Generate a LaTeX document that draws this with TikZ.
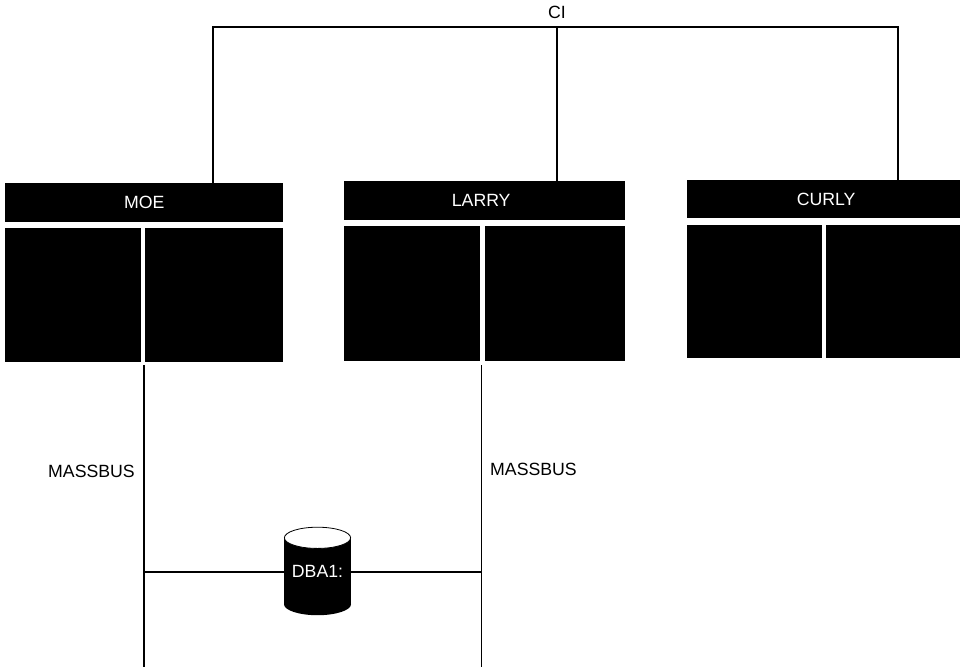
\documentclass[tikz,border=0pt]{standalone}
\usepackage{fontspec}
\setmainfont{Liberation Sans}
\usepackage{tikz}
\usetikzlibrary{positioning}
\begin{document}
\begin{tikzpicture}[
  x=1pt,y=-1pt,
  font=\fontsize{17.7}{20}\selectfont,
  title/.style={fill=black,text=white,minimum height=39pt,inner sep=0pt,anchor=north west},
  cab/.style={fill=black,inner sep=0pt,minimum height=134pt,anchor=north west},
  bus/.style={draw=black,line width=1.5pt},
  lab/.style={inner sep=0pt,text=black},
  disk/.style={fill=black,minimum width=67pt,minimum height=66pt,inner sep=0pt},
]
\useasboundingbox (0,0) rectangle (960,667);
% systems
\node[title,minimum width=278pt] (moe) at (5,183) {MOE};
\node[cab,minimum width=136pt] (moeA) at (5,228) {};
\node[cab,minimum width=138pt] (moeB) at (145,228) {};
\node[title,minimum width=281pt] (larry) at (344,181) {\hspace*{-7pt}LARRY};
\node[cab,minimum width=136pt,minimum height=135pt] (larryA) at (344,226) {};
\node[cab,minimum width=140pt,minimum height=135pt] (larryB) at (485,226) {};
\node[title,minimum width=273pt,minimum height=38pt] (curly) at (687,180) {\hspace*{5pt}CURLY};
\node[cab,minimum width=135pt,minimum height=133pt] (curlyA) at (687,225) {};
\node[cab,minimum width=134pt,minimum height=133pt] (curlyB) at (826,225) {};

% CI on top
\node[lab] (ci) at (557,12) {CI};
\coordinate (cijoin) at (557,27);
\draw[bus] (moe.north -| 213,0) |- (cijoin) -| (curly.north -| 898,0);
\draw[bus] (cijoin) -- (larry.north -| 557,0);

% disk and the two busses
\node[disk] (dba) at (317.5,571) {};
\fill (dba.south) ellipse (33.5 and 11);
\draw[fill=white,line width=0.8pt] (dba.north) ellipse (33.1 and 10.6);
\node[lab,text=white] (dbal) at (317.5,571) {DBA1:};
\coordinate (lefttop) at (144,365);
\coordinate (leftend) at (144,667);
\coordinate (righttop) at (481.5,365);
\coordinate (rightend) at (481.5,667);
\draw[bus] (lefttop) -- (leftend);
\draw[bus] (righttop) -- (rightend);
\draw[bus] (dba.west |- 0,572) -- (144,572);
\draw[bus] (dba.east |- 0,572) -- (481.5,572);

\node[lab,anchor=east] (busl) at (135,471) {MASSBUS};
\node[lab,anchor=west] (busr) at (490,469) {MASSBUS};
\end{tikzpicture}
\end{document}
